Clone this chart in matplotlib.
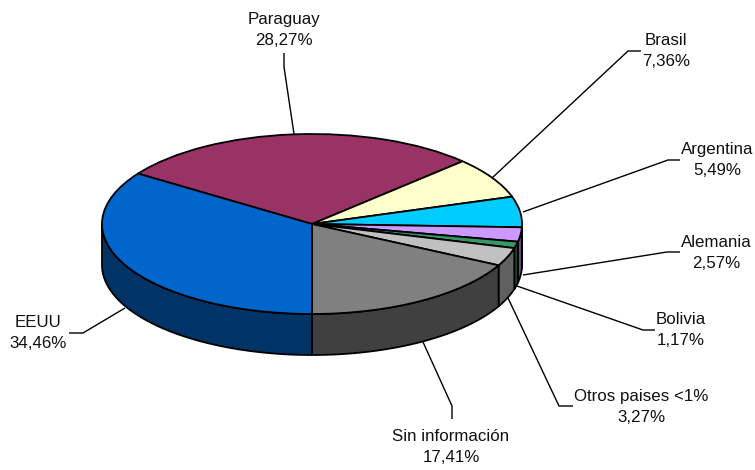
import numpy as np
import matplotlib
matplotlib.use("Agg")
import matplotlib.pyplot as plt

# Slices in drawing order, clockwise
paises = ["Paraguay", "Brasil", "Argentina", "Alemania", "Bolivia",
          "Otros paises <1%", "Sin información", "EEUU"]
porcentajes = [28.27, 7.36, 5.49, 2.57, 1.17, 3.27, 17.41, 34.46]
colores = ["#993366", "#FFFFCC", "#00CCFF", "#CC99FF", "#339966",
           "#C0C0C0", "#808080", "#0066CC"]
colores_lado = ["#4C1933", "#808066", "#006680", "#664C80", "#194C33",
                "#606060", "#404040", "#003366"]

W, H = 755, 470
CX, CY, RX, RY, DEPTH = 312, 224, 210, 90, 41

plt.rcParams["font.family"] = ["Liberation Sans", "DejaVu Sans"]
fig = plt.figure(figsize=(W / 100, H / 100), dpi=100)

# overlay in pixel coordinates for leaders and labels
bg = fig.add_axes([0, 0, 1, 1], zorder=3)
bg.set_xlim(0, W)
bg.set_ylim(H, 0)
bg.axis("off")

# pie axes: squashed so the unit circle becomes the top ellipse
ax = fig.add_axes([(CX - RX) / W, 1 - (CY + RY) / H, 2 * RX / W, 2 * RY / H], zorder=1)

# EEUU ends straight down, so the first slice starts from there
inicio = 180 - 3.6 * sum(porcentajes[:-1])
bordes = inicio + 3.6 * np.cumsum([0] + porcentajes)
d = DEPTH / RY

# side wall, only the front half (90..270 clockwise from top) shows
for a, b, c in zip(bordes[:-1], bordes[1:], colores_lado):
    for shift in (0, 360, -360):
        a2, b2 = max(a + shift, 90), min(b + shift, 270)
        if b2 <= a2:
            continue
        t = np.radians(np.linspace(a2, b2, 80))
        xs = np.sin(t)
        ys = np.cos(t)
        ax.fill(np.r_[xs, xs[::-1]], np.r_[ys, ys[::-1] - d], facecolor=c,
                edgecolor="black", lw=1.3, clip_on=False, joinstyle="round")

ax.pie(porcentajes, colors=colores, startangle=90 - inicio, counterclock=False, radius=1,
       wedgeprops=dict(edgecolor="black", linewidth=1.3, clip_on=False))
ax.set_aspect("auto")
ax.set_xlim(-1, 1)
ax.set_ylim(-1, 1)

# leader lines, each with its short elbow next to the label
lineas = [
    [(284, 53), (284, 67), (294, 134)],
    [(641, 51), (628, 51), (492, 178)],
    [(680, 160), (668, 160), (523, 212)],
    [(680, 252), (667, 252), (523, 275)],
    [(655, 330), (643, 330), (517, 286)],
    [(573, 406), (559, 406), (508, 298)],
    [(452, 419), (452, 406), (423, 342)],
    [(69, 333), (83, 333), (125, 308)],
]
for ln in lineas:
    bg.plot(*zip(*ln), color="black", lw=1.0, solid_capstyle="butt")

# label centres
pos_texto = [(284, 30), (666, 51), (717, 160), (716, 253), (681, 330),
             (641, 407), (451, 447), (38, 333)]
for nombre, p, (x, y) in zip(paises, porcentajes, pos_texto):
    etiqueta = f"{nombre}\n{p:.2f}%".replace(".", ",")
    bg.text(x, y, etiqueta, ha="center", va="center", fontsize=12.2,
            linespacing=1.47, color="#111111")

fig.savefig("out.png", dpi=100)
